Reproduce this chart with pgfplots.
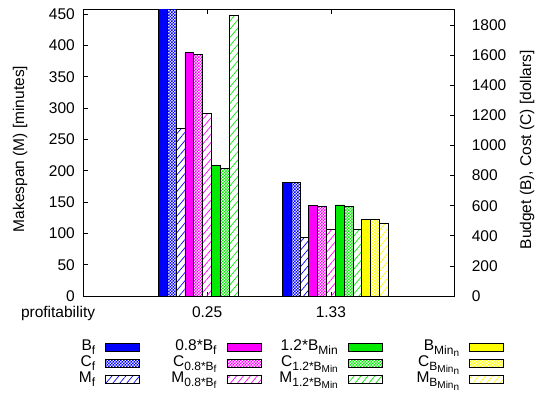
\documentclass[border=0pt]{standalone}
\usepackage{fontspec}
\setmainfont{Liberation Sans}
\usepackage{pgfplots}
\pgfplotsset{compat=1.18}
\usetikzlibrary{patterns,patterns.meta}
\pgfdeclarepatternformonly{finecheck}{\pgfqpoint{-0.1pt}{-0.1pt}}{\pgfqpoint{3.1pt}{3.1pt}}{\pgfqpoint{3pt}{3pt}}{%
  \pgfpathrectangle{\pgfpointorigin}{\pgfqpoint{1.5pt}{1.5pt}}%
  \pgfpathrectangle{\pgfqpoint{1.5pt}{1.5pt}}{\pgfqpoint{1.5pt}{1.5pt}}%
  \pgfusepath{fill}}
\definecolor{cB}{RGB}{0,0,255}
\definecolor{cM}{RGB}{255,0,255}
\definecolor{cG}{RGB}{0,235,0}
\definecolor{cY}{RGB}{255,255,0}
\newcommand\subA[1]{\raisebox{-3.5pt}{\fontsize{12pt}{13pt}\selectfont #1}}
\newcommand\subB[1]{\raisebox{-2pt}{\fontsize{10pt}{11pt}\selectfont #1}}
\pgfplotsset{
  /pgf/number format/assume math mode=true,
  /pgf/number format/1000 sep={},
  solidbar/.style={ybar, bar width=0.0714, fill=#1, draw=black, line width=0.8pt, forget plot},
  checkbar/.style={ybar, bar width=0.0714, pattern=finecheck, pattern color=#1, draw=black, line width=0.8pt, forget plot},
  hatchbar/.style={ybar, bar width=0.0714, pattern={Lines[angle=50,distance=5.3pt,line width=0.7pt]}, pattern color=#1, draw=black, line width=0.8pt, forget plot},
}
\begin{document}
\fontsize{15.5pt}{18pt}\selectfont
\begin{tikzpicture}
\path[use as bounding box] (-83.3pt,-98pt) rectangle (454.7pt,296pt);
% left axis: makespan
\begin{axis}[at={(0,0)}, anchor=south west, scale only axis,
  width=371.4pt, height=286.7pt,
  xmin=-1, xmax=2, ymin=0, ymax=457.5,
  xtick={0,1}, xticklabels={0.25,1.33}, xtick pos=both,
  ytick={0,50,...,450}, ytick pos=left,
  tick align=inside, major tick length=4.5pt,
  axis line style={line width=0.8pt}, every tick/.style={black, line width=0.8pt},
  xticklabel style={yshift=-5.4pt},
  yticklabel style={xshift=-3.1pt},
  ylabel={Makespan (M) [minutes]},
  ylabel style={at={(axis description cs:-0.170,0.513)}, anchor=center},
  xlabel={profitability},
  xlabel style={at={(axis description cs:-0.068,0)}, anchor=base, yshift=-21.7pt},
]
\addplot[hatchbar=cB, bar shift=-0.21429] coordinates {(0,268) (1,93)};
\addplot[hatchbar=cM, bar shift=0] coordinates {(0,291) (1,106)};
\addplot[hatchbar=cG, bar shift=0.21429] coordinates {(0,448) (1,106)};
\addplot[hatchbar=cY, bar shift=0.42857] coordinates {(0,0) (1,116)};
\end{axis}
% right axis: budget, cost
\begin{axis}[at={(0,0)}, anchor=south west, scale only axis,
  width=371.4pt, height=286.7pt,
  xmin=-1, xmax=2, ymin=0, ymax=1905,
  axis x line=none, axis y line=right, axis line style={-, line width=0.8pt},
  ytick={0,200,...,1800},
  tick align=inside, major tick length=4.5pt, every tick/.style={black, line width=0.8pt},
  yticklabel style={xshift=11.8pt, anchor=west},
  ylabel={Budget (B), Cost (C) [dollars]},
  ylabel style={at={(axis description cs:1.195,0.51)}, anchor=center, rotate=0},
  legend columns=4, legend plot pos=right, legend cell align=right,
  legend image code/.code={\draw[#1] (0pt,-3.8pt) rectangle (34pt,3.8pt);},
  legend style={at={(axis description cs:-0.1354,-0.155)}, anchor=north west,
    draw=none, fill=none, inner sep=0pt, row sep=3pt,
    nodes={text width=62pt, align=right, inner sep=0pt, text height=10pt, text depth=3pt},
    /tikz/every odd column/.append style={column sep=10pt},
    /tikz/every even column/.append style={column sep=14.5pt}},
]
\addplot[solidbar=cB, bar shift=-0.35714] coordinates {(0,2020) (1,753)};
\addplot[checkbar=cB, bar shift=-0.28571] coordinates {(0,2000) (1,753)};
\addplot[solidbar=cM, bar shift=-0.14286] coordinates {(0,1618) (1,602)};
\addplot[checkbar=cM, bar shift=-0.07143] coordinates {(0,1605) (1,598)};
\addplot[solidbar=cG, bar shift=0.07143] coordinates {(0,865) (1,605)};
\addplot[checkbar=cG, bar shift=0.14286] coordinates {(0,849) (1,598)};
\addplot[solidbar=cY, bar shift=0.28571] coordinates {(0,0) (1,511)};
\addplot[checkbar=cY, bar shift=0.35714] coordinates {(0,0) (1,509)};
% legend (row-wise)
\addlegendimage{fill=cB, draw=black, line width=0.8pt}
\addlegendentry{B\subA{f}}
\addlegendimage{fill=cM, draw=black, line width=0.8pt}
\addlegendentry{0.8*B\subA{f}}
\addlegendimage{fill=cG, draw=black, line width=0.8pt}
\addlegendentry{1.2*B\subA{Min}}
\addlegendimage{fill=cY, draw=black, line width=0.8pt}
\addlegendentry{B\subA{Min\subB{n}}}
\addlegendimage{pattern=finecheck, pattern color=cB, draw=black, line width=0.8pt}
\addlegendentry{C\subA{f}}
\addlegendimage{pattern=finecheck, pattern color=cM, draw=black, line width=0.8pt}
\addlegendentry{C\subA{0.8*B\subB{f}}}
\addlegendimage{pattern=finecheck, pattern color=cG, draw=black, line width=0.8pt}
\addlegendentry{C\subA{1.2*B\subB{Min}}}
\addlegendimage{pattern=finecheck, pattern color=cY, draw=black, line width=0.8pt}
\addlegendentry{C\subA{B\subB{Min\subB{n}}}}
\addlegendimage{pattern={Lines[angle=50,distance=5.3pt,line width=0.7pt]}, pattern color=cB, draw=black, line width=0.8pt}
\addlegendentry{M\subA{f}}
\addlegendimage{pattern={Lines[angle=50,distance=5.3pt,line width=0.7pt]}, pattern color=cM, draw=black, line width=0.8pt}
\addlegendentry{M\subA{0.8*B\subB{f}}}
\addlegendimage{pattern={Lines[angle=50,distance=5.3pt,line width=0.7pt]}, pattern color=cG, draw=black, line width=0.8pt}
\addlegendentry{M\subA{1.2*B\subB{Min}}}
\addlegendimage{pattern={Lines[angle=50,distance=5.3pt,line width=0.7pt]}, pattern color=cY, draw=black, line width=0.8pt}
\addlegendentry{M\subA{B\subB{Min\subB{n}}}}
\end{axis}
\end{tikzpicture}
\end{document}
